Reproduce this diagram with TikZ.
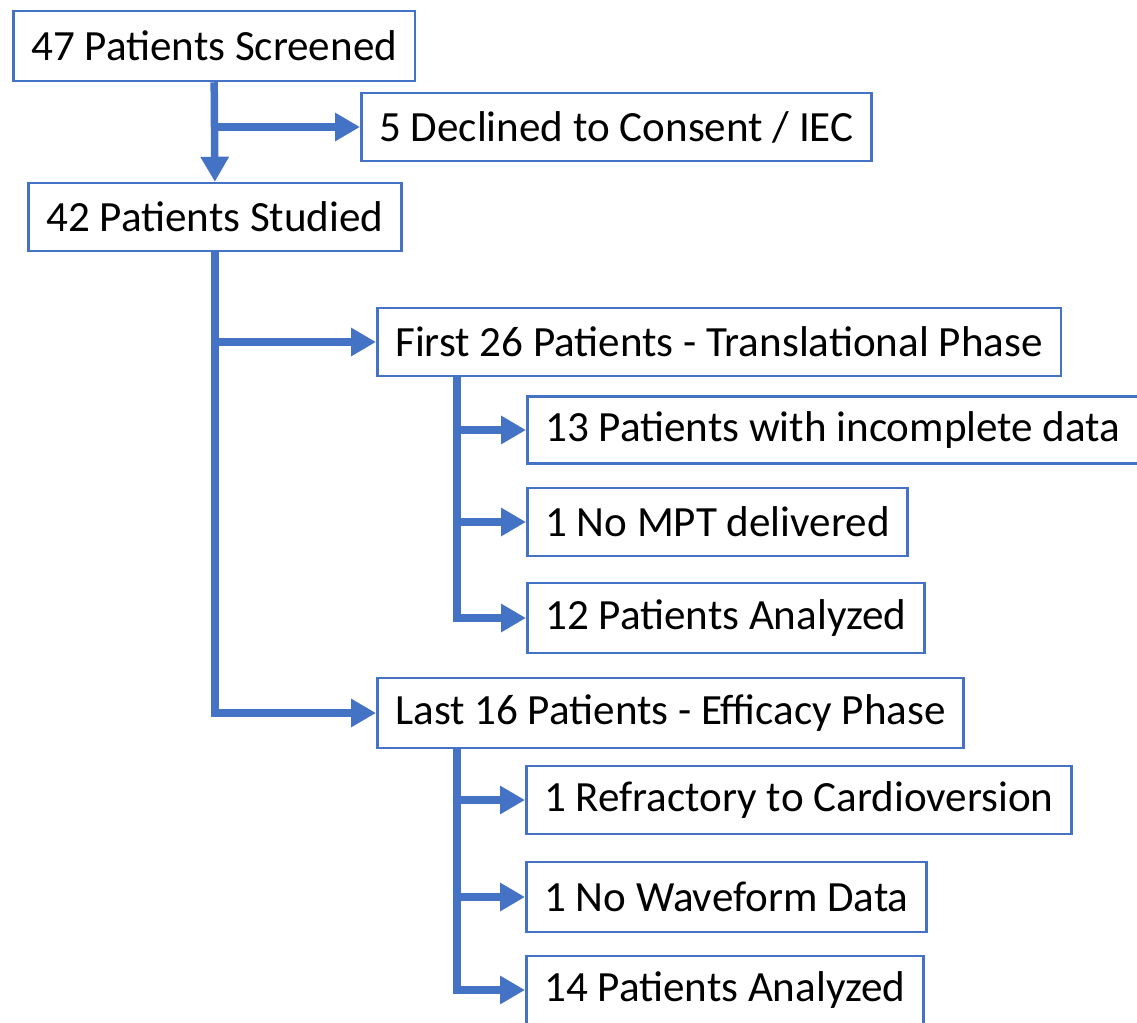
\documentclass[tikz,border=0pt]{standalone}
\usepackage{fontspec}
\setmainfont{Carlito}
\usepackage{tikz}
\usetikzlibrary{positioning, calc, arrows.meta}
\definecolor{flowblue}{HTML}{4472C4}

\begin{document}
\begin{tikzpicture}[x=1pt, y=-1pt,
  box/.style={draw=flowblue, line width=2.5pt, anchor=west, inner xsep=18pt, minimum height=68pt, font=\fontsize{43.1}{50}\selectfont},
  flow/.style={draw=flowblue, line width=7.5pt, -{Triangle[length=25pt, width=27pt]}}]
\useasboundingbox (0,0) rectangle (1137,1022);
% top of the chart
\node[box, minimum height=70pt] (screened) at (12,46) {47 Patients Screened};
\node[box] (declined) at (360,127) {5 Declined to Consent / IEC};
\node[box] (studied) at (27,217) {42 Patients Studied};
% translational phase
\node[box] (first26) at (376,342) {First 26 Patients - Translational Phase};
\node[box, minimum height=67pt] (incomplete) at (526,430) {13 Patients with incomplete data};
\node[box] (nompt) at (526,522) {1 No MPT delivered};
\node[box, minimum height=70pt] (analyzedA) at (526,618) {12 Patients Analyzed};
% efficacy phase
\node[box, minimum height=70pt] (last16) at (376,713) {Last 16 Patients - Efficacy Phase};
\node[box] (refractory) at (525,800) {1 Refractory to Cardioversion};
\node[box, minimum height=70pt] (nowave) at (525,897) {1 No Waveform Data};
\node[box] (analyzedB) at (525,990) {14 Patients Analyzed};

\coordinate (tA) at ([xshift=81pt]first26.south west);
\coordinate (tB) at ([xshift=81pt]last16.south west);

\draw[flow] (screened.south) -- (studied.north);
\draw[flow] (declined.west -| screened.south) -- (declined.west);
\draw[flow] (studied.south) |- (last16.west);
\draw[flow] (first26.west -| studied.south) -- (first26.west);

\draw[flow] (tA) |- (analyzedA.west);
\draw[flow] (tA |- incomplete.west) -- (incomplete.west);
\draw[flow] (tA |- nompt.west) -- (nompt.west);

\draw[flow] (tB) |- (analyzedB.west);
\draw[flow] (tB |- refractory.west) -- (refractory.west);
\draw[flow] (tB |- nowave.west) -- (nowave.west);
\end{tikzpicture}
\end{document}
